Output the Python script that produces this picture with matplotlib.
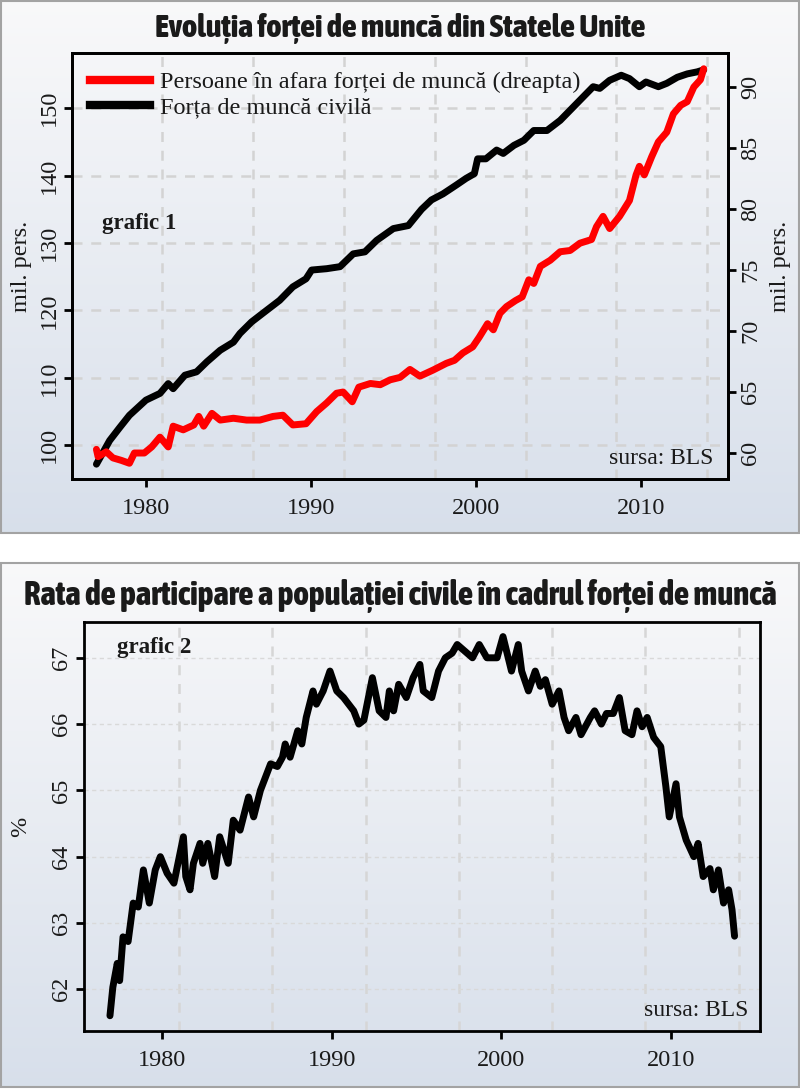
import matplotlib
matplotlib.use('Agg')
import matplotlib.pyplot as plt
from matplotlib import font_manager
from matplotlib.patches import Rectangle
from matplotlib.lines import Line2D
import numpy as np

# ---------------------------------------------------------------- data
# grafic 1 - forta de munca civila (mil. pers., axa stanga)
lf_year = [1977.0, 1977.8, 1978.4, 1979.0, 1980.0, 1980.85, 1981.35, 1981.65, 1982.36, 1983.07,
           1983.7, 1984.5, 1985.3, 1985.7, 1986.4, 1987.3, 1988.1, 1988.9, 1989.7, 1990.04,
           1990.95, 1991.76, 1992.56, 1993.27, 1993.98, 1994.99, 1995.9, 1996.7, 1997.3, 1998.0,
           1998.8, 1999.4, 1999.9, 2000.1, 2000.6, 2001.25, 2001.65, 2002.3, 2002.9, 2003.5,
           2004.3, 2005.1, 2005.9, 2006.7, 2007.1, 2007.5, 2008.1, 2008.8, 2009.3, 2009.9,
           2010.3, 2011.05, 2011.56, 2012.2, 2012.8, 2013.4, 2013.8]
lf_val = [97.2, 100.7, 102.6, 104.45, 106.7, 107.7, 109.15, 108.4, 110.4, 110.9,
          112.4, 114.1, 115.3, 116.6, 118.3, 120.0, 121.5, 123.5, 124.7, 126.0,
          126.2, 126.5, 128.4, 128.7, 130.4, 132.15, 132.6, 135.0, 136.4, 137.3,
          138.6, 139.6, 140.3, 142.5, 142.5, 143.8, 143.3, 144.5, 145.25, 146.7,
          146.7, 148.2, 150.2, 152.2, 153.2, 152.95, 154.15, 154.9, 154.4, 153.2,
          153.9, 153.2, 153.7, 154.6, 155.1, 155.4, 155.7]

# grafic 1 - persoane in afara fortei de munca (mil. pers., axa dreapta)
nilf_year = [1977.0, 1977.1, 1977.6, 1978.0, 1978.5, 1979.0, 1979.3, 1979.9, 1980.35, 1980.85,
             1981.35, 1981.65, 1982.26, 1982.9, 1983.2, 1983.5, 1984.0, 1984.5, 1985.3, 1986.1,
             1986.9, 1987.7, 1988.3, 1988.9, 1989.7, 1990.35, 1990.95, 1991.55, 1991.95, 1992.5,
             1992.9, 1993.6, 1994.2, 1994.8, 1995.4, 1996.0, 1996.6, 1997.4, 1998.2, 1998.7,
             1999.2, 1999.8, 2000.2, 2000.7, 2001.05, 2001.45, 2001.85, 2002.4, 2002.8, 2003.2,
             2003.5, 2003.9, 2004.5, 2005.1, 2005.7, 2006.3, 2007.0, 2007.3, 2007.7, 2008.1,
             2008.7, 2009.3, 2009.7, 2009.9, 2010.2, 2010.65, 2011.05, 2011.56, 2011.96, 2012.4,
             2012.8, 2013.2, 2013.6, 2013.8]
nilf_val = [60.3, 59.7, 60.1, 59.6, 59.4, 59.16, 60.0, 60.0, 60.5, 61.3,
            60.5, 62.2, 61.9, 62.3, 63.0, 62.2, 63.25, 62.7, 62.85, 62.7,
            62.7, 63.0, 63.1, 62.3, 62.4, 63.4, 64.1, 64.9, 65.0, 64.2,
            65.4, 65.7, 65.6, 66.0, 66.2, 66.85, 66.3, 66.8, 67.35, 67.6,
            68.2, 68.7, 69.5, 70.6, 70.1, 71.45, 72.0, 72.5, 72.8, 74.2,
            73.9, 75.3, 75.8, 76.5, 76.6, 77.2, 77.5, 78.55, 79.4, 78.4,
            79.4, 80.7, 82.8, 83.5, 82.8, 84.3, 85.5, 86.3, 87.8, 88.5,
            88.8, 90.0, 90.6, 91.5]

# grafic 2 - rata de participare (%)
rate_year = [1976.93, 1977.1, 1977.36, 1977.5, 1977.7, 1978.0, 1978.3, 1978.6, 1978.9, 1979.25,
             1979.6, 1979.9, 1980.3, 1980.7, 1981.26, 1981.4, 1981.65, 1981.85, 1982.24, 1982.4,
             1982.7, 1983.1, 1983.4, 1983.9, 1984.2, 1984.6, 1984.9, 1985.1, 1985.4, 1985.8,
             1986.4, 1986.8, 1987.1, 1987.26, 1987.55, 1988.0, 1988.24, 1988.5, 1988.9, 1989.1,
             1989.5, 1989.9, 1990.3, 1990.7, 1991.3, 1991.6, 1991.9, 1992.4, 1992.8, 1993.2,
             1993.4, 1993.65, 1993.95, 1994.4, 1994.8, 1995.2, 1995.4, 1995.9, 1996.3, 1996.7,
             1997.1, 1997.4, 1998.3, 1998.7, 1999.15, 1999.75, 2000.1, 2000.6, 2001.0, 2001.2,
             2001.6, 2002.0, 2002.3, 2002.6, 2003.0, 2003.4, 2003.7, 2003.97, 2004.4, 2004.7,
             2005.25, 2005.5, 2005.9, 2006.2, 2006.6, 2006.96, 2007.3, 2007.7, 2008.0, 2008.3,
             2008.6, 2008.98, 2009.4, 2009.7, 2009.9, 2010.3, 2010.5, 2010.9, 2011.35, 2011.6,
             2011.9, 2012.3, 2012.5, 2012.8, 2013.1, 2013.4, 2013.6, 2013.75]
rate_val = [61.6, 62.03, 62.39, 62.13, 62.79, 62.72, 63.3, 63.24, 63.8, 63.3,
            63.8, 64.0, 63.75, 63.6, 64.3, 63.7, 63.5, 63.9, 64.2, 63.9,
            64.2, 63.7, 64.3, 63.9, 64.55, 64.4, 64.7, 64.9, 64.6, 65.0,
            65.4, 65.36, 65.5, 65.7, 65.5, 65.9, 65.7, 66.1, 66.5, 66.3,
            66.5, 66.8, 66.5, 66.4, 66.2, 66.0, 66.06, 66.7, 66.2, 66.1,
            66.5, 66.2, 66.6, 66.4, 66.7, 66.9, 66.5, 66.4, 66.8, 67.0,
            67.07, 67.2, 67.0, 67.2, 67.0, 67.0, 67.32, 66.8, 67.2, 66.8,
            66.5, 66.8, 66.57, 66.67, 66.3, 66.5, 66.1, 65.9, 66.1, 65.84,
            66.1, 66.2, 66.0, 66.16, 66.16, 66.4, 65.9, 65.84, 66.2, 65.96,
            66.1, 65.8, 65.66, 65.06, 64.6, 65.1, 64.6, 64.25, 64.0, 64.2,
            63.7, 63.82, 63.5, 63.8, 63.3, 63.5, 63.2, 62.8]

x_ticks = [1980, 1990, 2000, 2010]
left_ticks = [100, 110, 120, 130, 140, 150]
right_ticks = [60, 65, 70, 75, 80, 85, 90]
rate_ticks = [62, 63, 64, 65, 66, 67]
grid_x = [1981, 1986.5, 1992, 1997.5, 2003, 2008.5, 2014]

title1 = 'Evoluția forței de muncă din Statele Unite'
title2 = 'Rata de participare a populației civile în cadrul forței de muncă'
leg_nilf = 'Persoane în afara forței de muncă (dreapta)'
leg_lf = 'Forța de muncă civilă'

# ---------------------------------------------------------------- fonts
names = {f.name for f in font_manager.fontManager.ttflist}
serif = 'Liberation Serif' if 'Liberation Serif' in names else 'DejaVu Serif'
plt.rcParams['font.family'] = serif

# titlul e intr-un font ingust si gros; cautam un font condensed bold instalat
stretch_rank = {'ultra-condensed': 4, 'extra-condensed': 3, 'condensed': 2, 'semi-condensed': 1}


def _w(f):
    w = f.weight
    if isinstance(w, str):
        w = font_manager.weight_dict.get(w, 400)
    return w


best, best_score = None, None
for f in font_manager.fontManager.ttflist:
    rank = stretch_rank.get(f.stretch, 0)
    if 'Narrow' in f.name or 'Compressed' in f.name or 'Condensed' in f.name:
        rank = max(rank, 2)
    if rank == 0 or _w(f) < 600 or f.style != 'normal':
        continue
    score = (rank, -abs(_w(f) - 800))
    if best_score is None or score > best_score:
        best, best_score = f, score
if best is not None:
    title_fp = font_manager.FontProperties(fname=best.fname)
else:
    title_fp = font_manager.FontProperties(family='DejaVu Sans', weight='bold')

W, H = 800, 1089
fig = plt.figure(figsize=(W / 100, H / 100), dpi=100)


def frac(px_left, px_top, px_right, px_bottom):
    return [px_left / W, 1 - px_bottom / H, (px_right - px_left) / W, (px_bottom - px_top) / H]


def panel_bg(top, bottom):
    bg = fig.add_axes(frac(1, top, 799, bottom), zorder=0)
    c_top = np.array([0.975, 0.975, 0.98])
    c_bot = np.array([0.845, 0.875, 0.92])
    t = np.linspace(0, 1, 256)[:, None]
    grad = (c_top * (1 - t) + c_bot * t)[:, None, :]
    bg.imshow(grad, aspect='auto', extent=[0, 1, 0, 1])
    bg.set_axis_off()
    fig.patches.append(Rectangle((1 / W, 1 - bottom / H), 798 / W, (bottom - top) / H,
                                 transform=fig.transFigure, fill=False,
                                 edgecolor='#a3a3a3', linewidth=1.5, zorder=5))


def style_axes(ax):
    for s in ax.spines.values():
        s.set_linewidth(2)
        s.set_color('black')
    ax.tick_params(direction='out', length=6, width=2, labelsize=17.5, pad=3,
                   labelcolor='#1a1a1a')
    ax.tick_params(axis='x', pad=8)
    ax.set_facecolor('none')


def rotate_ylabels(ax):
    for lab in ax.get_yticklabels():
        lab.set_rotation(90)
        lab.set_va('center')


def fit_title(txt, target_px):
    r = fig.canvas.get_renderer()
    w = txt.get_window_extent(r).width
    txt.set_fontsize(txt.get_fontsize() * target_px / w)


panel_bg(1, 533)
panel_bg(563, 1087)

# ---------------------------------------------------------------- grafic 1
ax1 = fig.add_axes(frac(72, 53, 728, 479), zorder=2)
style_axes(ax1)
ax1.set_xlim(1975.52, 2015.27)
ax1.set_ylim(95.0, 158.2)
for gx in grid_x:
    ax1.axvline(gx, color='#d3d3d3', lw=1.8, dashes=(4, 3.5), zorder=1)
for gy in left_ticks:
    ax1.axhline(gy, color='#d3d3d3', lw=1.8, dashes=(4, 3.5), zorder=1)
ax1.plot(lf_year, lf_val, color='black', lw=5, solid_joinstyle='round',
         solid_capstyle='round', zorder=3)
ax1.set_xticks(x_ticks)
ax1.set_yticks(left_ticks)
rotate_ylabels(ax1)
ax1.set_ylabel('mil. pers.', fontsize=17.5, labelpad=5, color='#1a1a1a')

ax2 = ax1.twinx()
style_axes(ax2)
ax2.set_ylim(57.87, 92.79)
ax2.plot(nilf_year, nilf_val, color='#ff0000', lw=5, solid_joinstyle='round',
         solid_capstyle='round', zorder=3)
ax2.set_yticks(right_ticks)
rotate_ylabels(ax2)
ax2.set_ylabel('mil. pers.', fontsize=17.5, labelpad=6, rotation=90, color='#1a1a1a')

handles = [Line2D([], [], color='#ff0000', lw=6), Line2D([], [], color='black', lw=6)]
leg = ax2.legend(handles, [leg_nilf, leg_lf], loc='upper left', frameon=False, fontsize=17.5,
                 handlelength=2.5, handletextpad=0.4, labelspacing=0.12,
                 borderaxespad=0.0, bbox_to_anchor=(0.012, 0.98))
for t in leg.get_texts():
    t.set_color('#1a1a1a')

fig.text(102 / W, 1 - 223 / H, 'grafic 1', fontsize=16.5, fontweight='bold',
         va='center', ha='left', color='#1a1a1a')
fig.text(713 / W, 1 - 458 / H, 'sursa: BLS', fontsize=17,
         va='center', ha='right', color='#1a1a1a')

t1 = fig.text(0.5, 1 - 28 / H, title1, ha='center', va='center', fontproperties=title_fp,
              fontsize=20, color='#1a1a1a')

# ---------------------------------------------------------------- grafic 2
ax3 = fig.add_axes(frac(84, 622, 760, 1031), zorder=2)
style_axes(ax3)
ax3.set_xlim(1975.4, 2015.25)
ax3.set_ylim(61.37, 67.54)
for gx in grid_x:
    ax3.axvline(gx, color='#d6d6d6', lw=1.8, dashes=(4, 3.5), zorder=1)
for gy in rate_ticks:
    ax3.axhline(gy, color='#d9d9d9', lw=1.0, dashes=(3, 2.5), zorder=1)
ax3.plot(rate_year, rate_val, color='black', lw=5, solid_joinstyle='round',
         solid_capstyle='round', zorder=3)
ax3.set_xticks(x_ticks)
ax3.set_yticks(rate_ticks)
rotate_ylabels(ax3)
ax3.set_ylabel('%', fontsize=17.5, labelpad=14, color='#1a1a1a')

fig.text(117 / W, 1 - 647 / H, 'grafic 2', fontsize=16.5, fontweight='bold',
         va='center', ha='left', color='#1a1a1a')
fig.text(748 / W, 1 - 1010 / H, 'sursa: BLS', fontsize=17,
         va='center', ha='right', color='#1a1a1a')

t2 = fig.text(0.5, 1 - 596 / H, title2, ha='center', va='center', fontproperties=title_fp,
              fontsize=20, color='#1a1a1a')

fit_title(t1, 488)
fit_title(t2, 750)

fig.savefig('out.png', dpi=100, facecolor='white')
